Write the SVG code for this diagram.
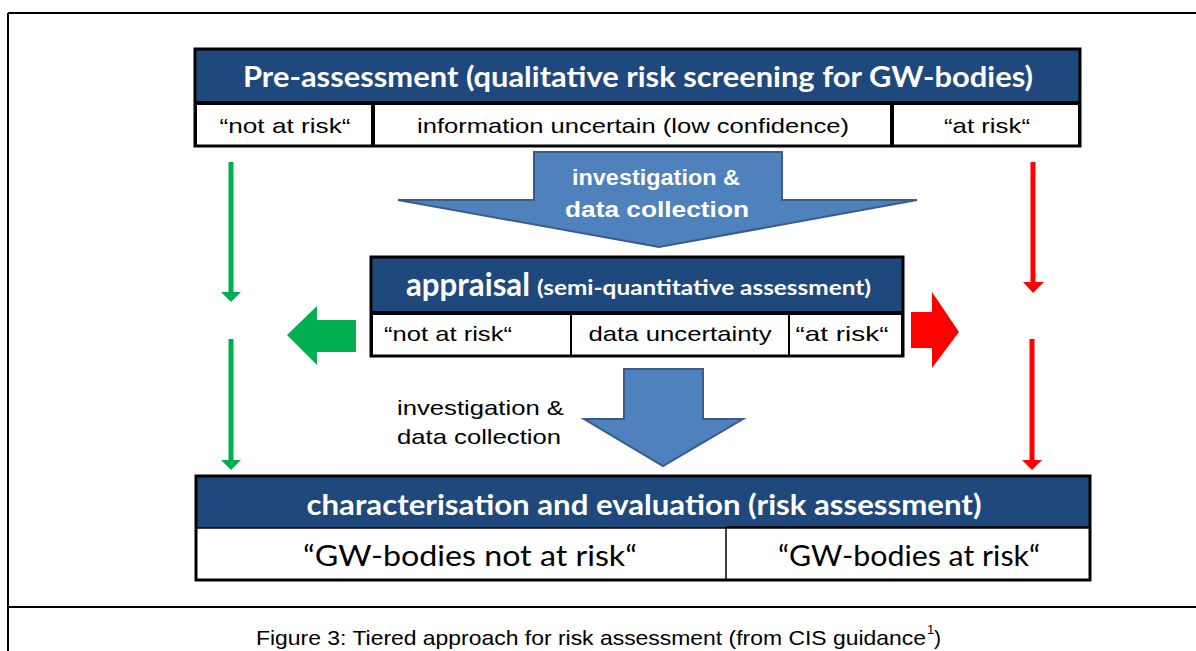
<svg xmlns="http://www.w3.org/2000/svg" width="1196" height="651" viewBox="0 0 1196 651">
  <style>
    .frame { stroke: #000; stroke-width: 2; fill: none; }
    .hdr { fill: #1F497D; }
    .cell { fill: #fff; stroke: #000; stroke-width: 2; }
    .box { fill: none; stroke: #000; stroke-width: 3; }
    .div { stroke: #000; stroke-width: 4; }
    .thin { stroke: #000; stroke-width: 1.5; }
    .htxt { font-family: Lato, "Open Sans", sans-serif; font-weight: bold; fill: #fff; text-anchor: middle; }
    .atxt { font-family: "Liberation Sans", Arial, sans-serif; font-weight: bold; font-size: 22px; fill: #fff; text-anchor: middle; }
    .ctxt { font-family: "Liberation Sans", Arial, sans-serif; font-size: 21px; fill: #000; text-anchor: middle; }
    .ltxt { font-family: Lato, "Open Sans", sans-serif; font-size: 28px; fill: #000; text-anchor: middle; }
    .big { fill: #4F81BD; stroke: #385D8A; stroke-width: 2; }
    .green { fill: #00B050; }
    .red { fill: #FF0000; }
    .gline { stroke: #00B050; stroke-width: 5; }
    .rline { stroke: #FF0000; stroke-width: 5; }
  </style>

  <!-- page frame -->
  <g id="frame">
    <line class="frame" x1="8" y1="13" x2="1196" y2="13"/>
    <line class="frame" x1="8" y1="13" x2="8" y2="651"/>
    <line class="frame" x1="8" y1="607" x2="1196" y2="607"/>
  </g>

  <!-- tier 1 -->
  <g id="pre-assessment">
    <rect class="hdr" x="195" y="49" width="885" height="54"/>
    <rect class="cell" x="196" y="104" width="177" height="42"/>
    <rect class="cell" x="373" y="104" width="519" height="42"/>
    <rect class="cell" x="892" y="104" width="187" height="42"/>
    <rect class="box" x="195" y="49" width="885" height="97"/>
    <line class="div" x1="195" y1="103" x2="1080" y2="103"/>
    <line class="div" x1="373" y1="103" x2="373" y2="146"/>
    <line class="div" x1="892" y1="103" x2="892" y2="146"/>
    <text class="htxt" x="638" y="87" font-size="28" textLength="790" lengthAdjust="spacingAndGlyphs">Pre-assessment (qualitative risk screening for GW-bodies)</text>
    <text class="ctxt" x="285" y="133" textLength="131" lengthAdjust="spacingAndGlyphs">“not at risk“</text>
    <text class="ctxt" x="633" y="133" textLength="432" lengthAdjust="spacingAndGlyphs">information uncertain (low confidence)</text>
    <text class="ctxt" x="987" y="133" textLength="86" lengthAdjust="spacingAndGlyphs">“at risk“</text>
  </g>

  <!-- tier 2 -->
  <g id="appraisal">
    <rect class="hdr" x="371" y="257" width="532" height="56"/>
    <rect class="cell" x="372" y="313" width="199" height="43"/>
    <rect class="cell" x="571" y="313" width="218" height="43"/>
    <rect class="cell" x="789" y="313" width="113" height="43"/>
    <rect class="box" x="371" y="257" width="532" height="99"/>
    <line class="div" x1="371" y1="313" x2="903" y2="313"/>
    <text class="htxt" x="468" y="296" font-size="32" textLength="124" lengthAdjust="spacingAndGlyphs">appraisal</text>
    <text class="htxt" x="704" y="295" font-size="20" textLength="334" lengthAdjust="spacingAndGlyphs">(semi-quantitative assessment)</text>
    <text class="ctxt" x="448" y="341" textLength="128" lengthAdjust="spacingAndGlyphs">“not at risk“</text>
    <text class="ctxt" x="680" y="341" textLength="183" lengthAdjust="spacingAndGlyphs">data uncertainty</text>
    <text class="ctxt" x="842" y="341" textLength="93" lengthAdjust="spacingAndGlyphs">“at risk“</text>
  </g>

  <!-- tier 3 -->
  <g id="characterisation">
    <rect class="hdr" x="196" y="476" width="894" height="52"/>
    <rect x="196" y="528" width="894" height="52" fill="#fff"/>
    <rect class="box" x="196" y="476" width="894" height="104"/>
    <line class="thin" x1="196" y1="528" x2="1090" y2="528"/>
    <line class="thin" x1="726" y1="527" x2="726" y2="580"/>
    <line class="thin" x1="726" y1="527" x2="1090" y2="527"/>
    <text class="htxt" x="644" y="515" font-size="28" textLength="675" lengthAdjust="spacingAndGlyphs">characterisation and evaluation (risk assessment)</text>
    <text class="ltxt" x="470" y="566" textLength="334" lengthAdjust="spacingAndGlyphs">“GW-bodies not at risk“</text>
    <text class="ltxt" x="909" y="566" textLength="262" lengthAdjust="spacingAndGlyphs">“GW-bodies at risk“</text>
  </g>

  <!-- connectors -->
  <g id="connectors">
    <!-- broad arrow from tier 1 to tier 2 -->
    <polygon class="big" points="534,152 782,152 782,200 917,200 659,247 398,200 534,200"/>
    <text class="atxt" x="656" y="185" textLength="168" lengthAdjust="spacingAndGlyphs">investigation &amp;</text>
    <text class="atxt" x="657" y="217" textLength="184" lengthAdjust="spacingAndGlyphs">data  collection</text>

    <!-- arrow from tier 2 to tier 3 -->
    <polygon class="big" points="624,369 703,369 703,419 743,419 663,466 584,419 624,419"/>
    <text class="ctxt" x="397" y="415" style="text-anchor:start" textLength="167" lengthAdjust="spacingAndGlyphs">investigation &amp;</text>
    <text class="ctxt" x="397" y="444" style="text-anchor:start" textLength="164" lengthAdjust="spacingAndGlyphs">data collection</text>

    <!-- appraisal outcomes -->
    <polygon class="green" points="287,335 317,306 317,320 356,320 356,352 317,352 317,365"/>
    <polygon class="red" points="959,332 932,292 932,312 911,312 911,348 932,348 932,368"/>

    <!-- "not at risk" path -->
    <line class="gline" x1="231" y1="162" x2="231" y2="293"/>
    <polygon class="green" points="221,292 241,292 231,302"/>
    <line class="gline" x1="231" y1="339" x2="231" y2="461"/>
    <polygon class="green" points="221,460 241,460 231,470"/>

    <!-- "at risk" path -->
    <line class="rline" x1="1033" y1="162" x2="1033" y2="284"/>
    <polygon class="red" points="1023,282 1044,282 1033,293"/>
    <line class="rline" x1="1032" y1="339" x2="1032" y2="461"/>
    <polygon class="red" points="1022,460 1042,460 1032,470"/>
  </g>

  <!-- caption -->
  <g id="caption">
    <text x="256" y="645" font-family="Liberation Sans, Arial, sans-serif" font-size="21" fill="#000" textLength="670" lengthAdjust="spacingAndGlyphs">Figure 3: Tiered approach for risk assessment (from CIS guidance</text>
    <text x="927" y="634" font-family="Liberation Sans, Arial, sans-serif" font-size="13" fill="#000">1</text>
    <text x="934" y="645" font-family="Liberation Sans, Arial, sans-serif" font-size="21" fill="#000">)</text>
  </g>
</svg>
